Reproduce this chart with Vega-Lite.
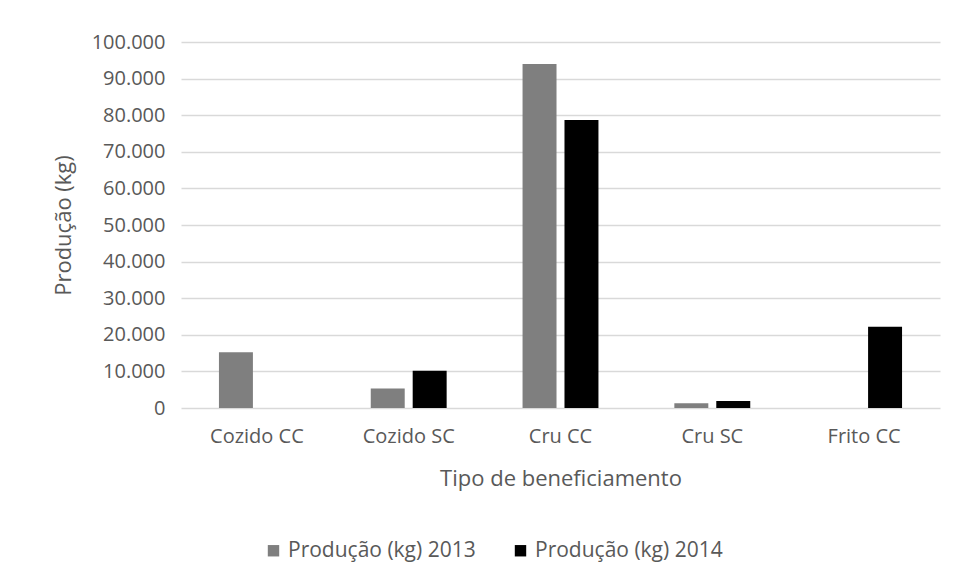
{
  "$schema": "https://vega.github.io/schema/vega-lite/v6.json",
  "autosize": "none",
  "width": 759,
  "height": 366,
  "padding": {"left": 181, "top": 42, "right": 13, "bottom": 174},
  "background": "white",
  "config": {
    "locale": {"number": {"decimal": ",", "thousands": ".", "grouping": [3], "currency": ["R$", ""]}},
    "view": {"stroke": null},
    "font": "Open Sans"
  },
  "data": {
    "values": [
      {"tipo": "Cozido CC", "serie": "Produção (kg) 2013", "producao": 15200},
      {"tipo": "Cozido CC", "serie": "Produção (kg) 2014", "producao": 0},
      {"tipo": "Cozido SC", "serie": "Produção (kg) 2013", "producao": 5300},
      {"tipo": "Cozido SC", "serie": "Produção (kg) 2014", "producao": 10200},
      {"tipo": "Cru CC", "serie": "Produção (kg) 2013", "producao": 94000},
      {"tipo": "Cru CC", "serie": "Produção (kg) 2014", "producao": 78700},
      {"tipo": "Cru SC", "serie": "Produção (kg) 2013", "producao": 1300},
      {"tipo": "Cru SC", "serie": "Produção (kg) 2014", "producao": 1900},
      {"tipo": "Frito CC", "serie": "Produção (kg) 2013", "producao": 0},
      {"tipo": "Frito CC", "serie": "Produção (kg) 2014", "producao": 22200}
    ]
  },
  "mark": {"type": "bar"},
  "encoding": {
    "x": {
      "field": "tipo",
      "type": "nominal",
      "sort": ["Cozido CC", "Cozido SC", "Cru CC", "Cru SC", "Frito CC"],
      "scale": {"paddingInner": 0.5, "paddingOuter": 0.25},
      "axis": {
        "title": "Tipo de beneficiamento",
        "labelAngle": 0,
        "domain": false,
        "ticks": false,
        "labelPadding": 18,
        "labelFontSize": 20,
        "labelColor": "#595959",
        "titleFontSize": 22,
        "titleFontWeight": "normal",
        "titleColor": "#595959",
        "titlePadding": 22
      }
    },
    "xOffset": {"field": "serie", "scale": {"paddingInner": 0.19}},
    "y": {
      "field": "producao",
      "type": "quantitative",
      "scale": {"domain": [0, 100000]},
      "axis": {
        "title": "Produção (kg)",
        "format": ",.0f",
        "values": [0, 10000, 20000, 30000, 40000, 50000, 60000, 70000, 80000, 90000, 100000],
        "domain": false,
        "ticks": false,
        "gridColor": "#d9d9d9",
        "gridWidth": 1.5,
        "labelPadding": 16,
        "labelFontSize": 20,
        "labelColor": "#595959",
        "titleFontSize": 22,
        "titleFontWeight": "normal",
        "titleColor": "#595959",
        "titlePadding": 16
      }
    },
    "color": {
      "field": "serie",
      "type": "nominal",
      "scale": {"range": ["#7f7f7f", "#000000"]},
      "legend": {
        "title": null,
        "orient": "none",
        "direction": "horizontal",
        "legendX": 82,
        "legendY": 498,
        "symbolType": "square",
        "symbolSize": 130,
        "symbolStrokeWidth": 0,
        "labelFontSize": 21,
        "labelLimit": 400,
        "labelColor": "#595959",
        "columnPadding": 34
      }
    }
  }
}
